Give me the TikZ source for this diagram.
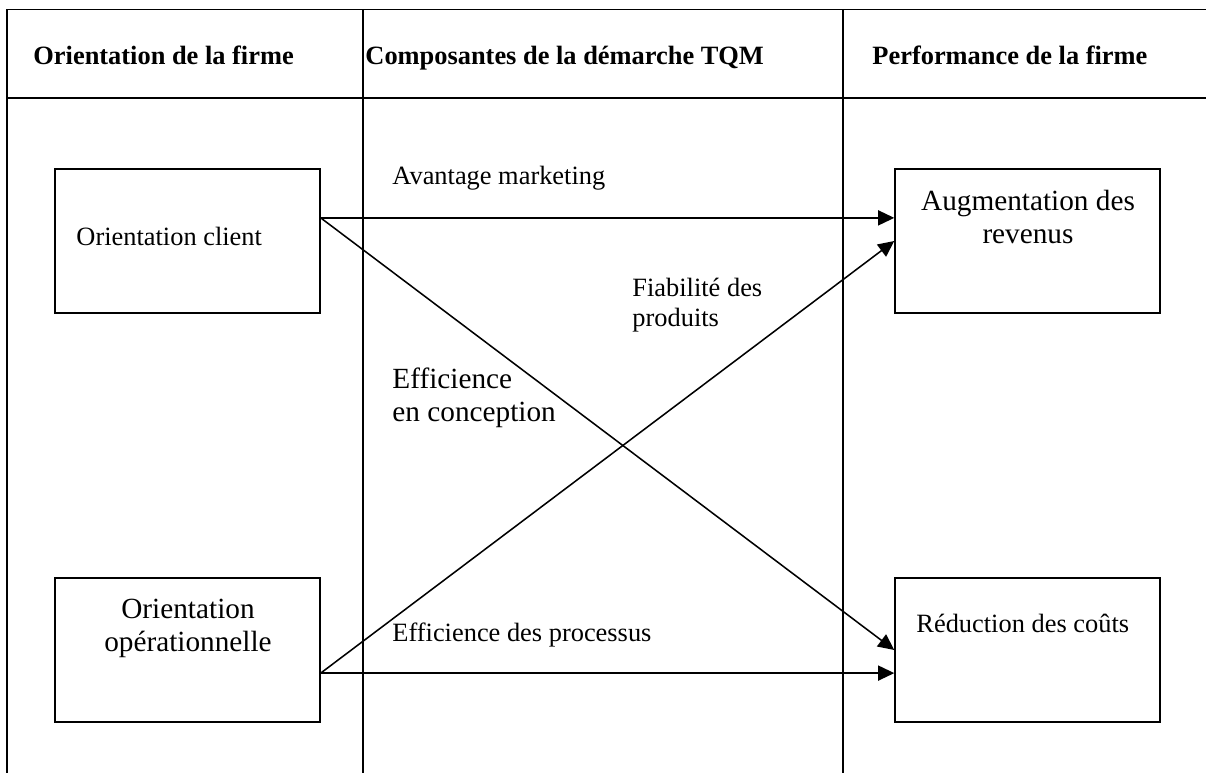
\documentclass[tikz,border=0pt]{standalone}
\usepackage{fontspec}
\setmainfont{Liberation Serif}
\usetikzlibrary{positioning,arrows.meta}

\tikzset{
  box/.style={draw, line width=0.7pt, inner sep=0pt, minimum width=120.4pt, minimum height=65.5pt},
  lbl/.style={inner sep=0pt, anchor=base west, font=\fontsize{12}{13.8}\selectfont},
  biglbl/.style={inner sep=0pt, anchor=base, align=center, font=\fontsize{13.3}{15.3}\selectfont},
  head/.style={inner sep=0pt, anchor=base west, font=\fontsize{12}{13.8}\selectfont\bfseries},
  link/.style={line width=0.7pt, -{Triangle[length=7.3pt,width=6.8pt]}},
  gridline/.style={line width=0.8pt},
}

\begin{document}
\begin{tikzpicture}[x=0.4545pt, y=-0.4545pt]
\useasboundingbox (0,0) rectangle (1206,773);

% table
\draw[gridline] (1206,9.5) -- (7,9.5);
\draw[gridline] (7,98) -- (1206,98);
\foreach \cx in {7,363,843}
  \draw[gridline] (\cx,9.5) -- (\cx,773);

\node[head] (hOrient) at (33,65) {Orientation de la firme};
\node[head] (hTqm) at (365,65) {Composantes de la démarche TQM};
\node[head] (hPerf) at (872,65) {Performance de la firme};

% boxes
\node[box] (client) at (187.5,241) {};
\node[box] (oper) at (187.5,650) {};
\node[box] (revenus) at (1027.5,241) {};
\node[box] (couts) at (1027.5,650) {};

% base of a two-line node = last line
\node[lbl] (clientTxt) at (76,246) {Orientation client};
\node[biglbl] (operTxt) at (188,652) {Orientation\\opérationnelle};
\node[biglbl] (revenusTxt) at (1028,244) {Augmentation des\\revenus};
\node[lbl] (coutsTxt) at (916,633) {Réduction des coûts};

% links
\node[lbl] (avantage) at (392,185) {Avantage marketing};
\node[lbl, align=left] (fiabilite) at (632,327) {Fiabilité des\\produits};
\node[biglbl, anchor=base west, align=left] (conception) at (392,422) {Efficience\\en conception};
\node[lbl] (processus) at (392,642) {Efficience des processus};

\draw[link] ([yshift=10.5pt]client.east) -- ([yshift=10.5pt]revenus.west);
\draw[link] ([yshift=10.5pt]client.east) -- (couts.west);
\draw[link] ([yshift=-10.5pt]oper.east) -- (revenus.west);
\draw[link] ([yshift=-10.5pt]oper.east) -- ([yshift=-10.5pt]couts.west);

\end{tikzpicture}
\end{document}
